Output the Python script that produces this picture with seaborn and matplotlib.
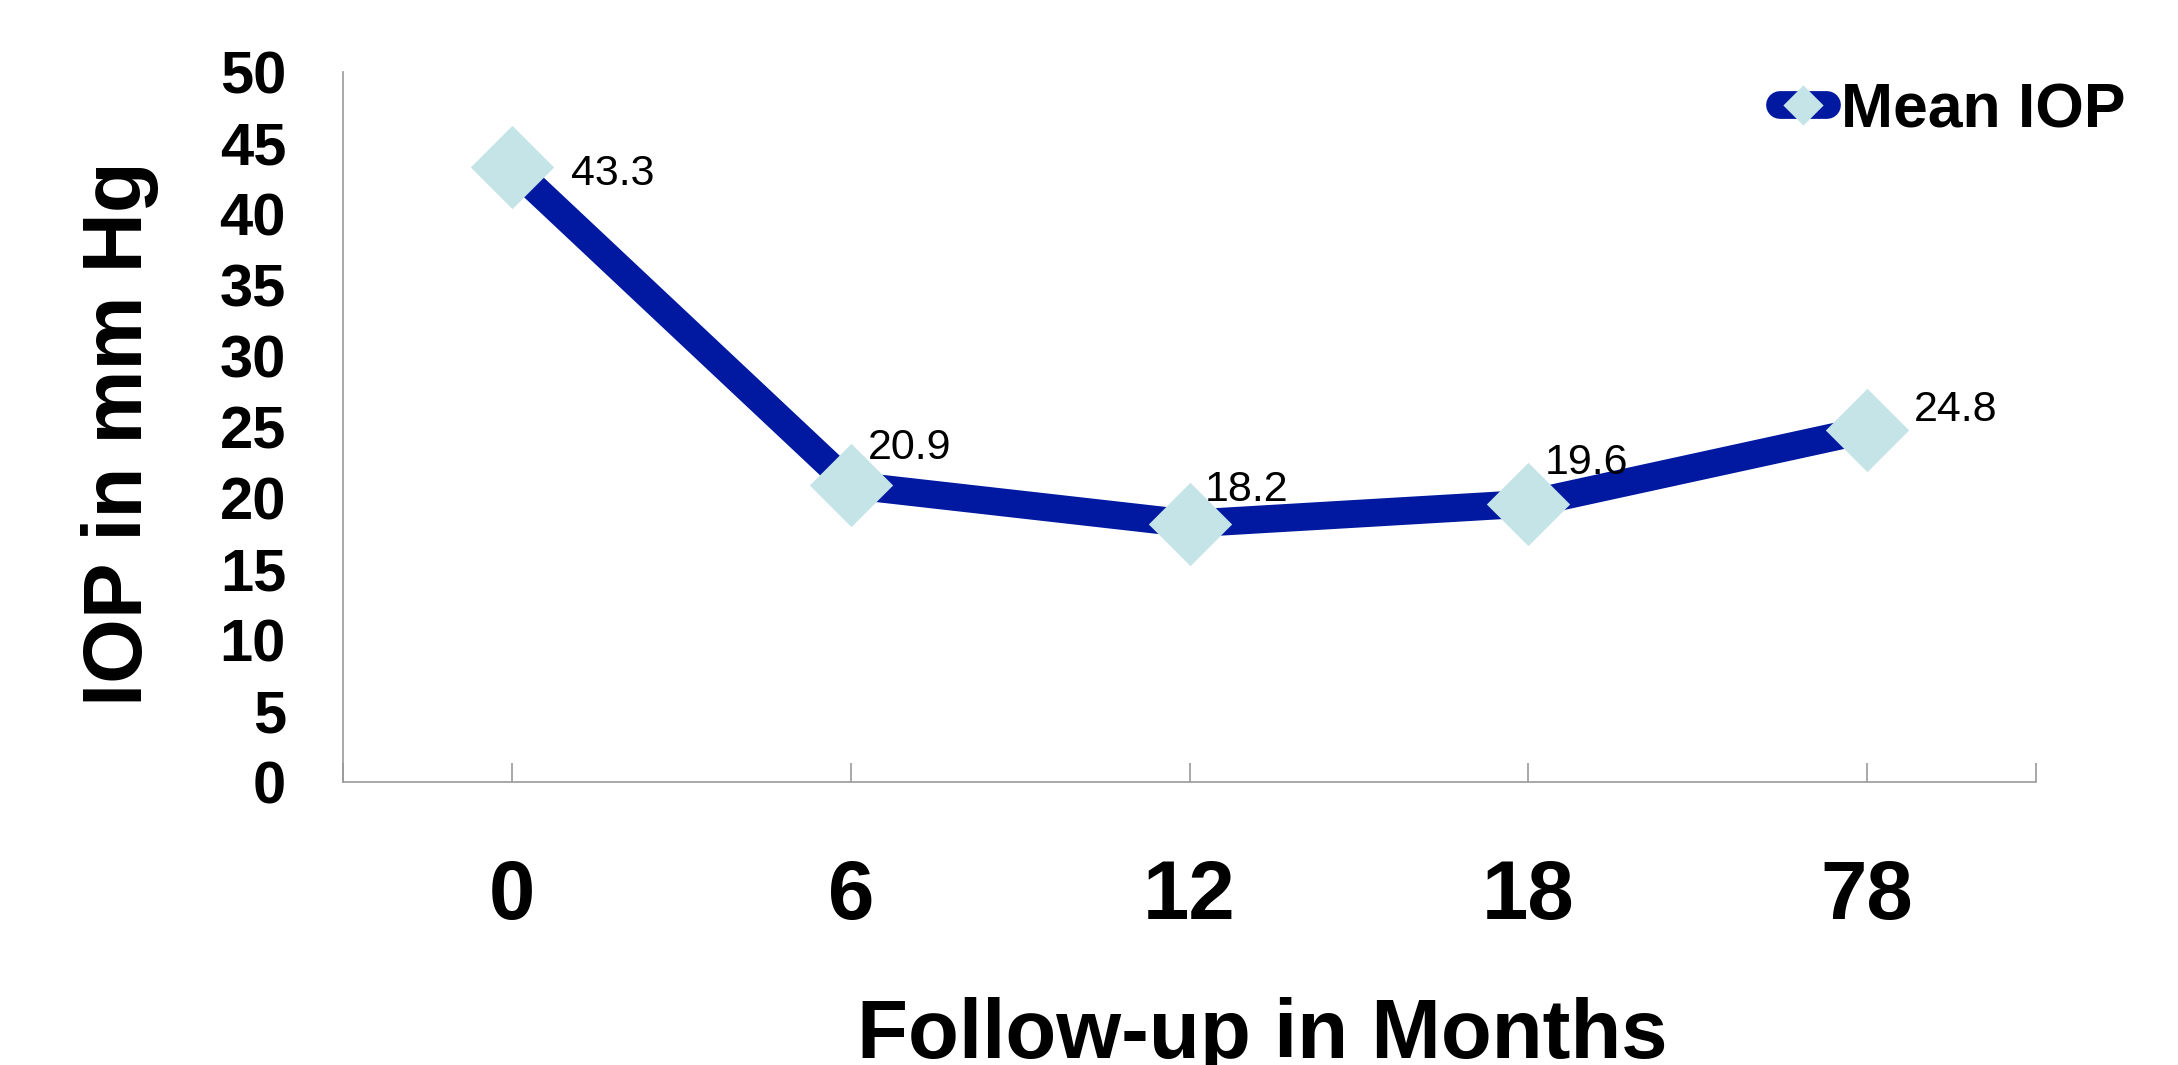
import numpy as np
import pandas as pd
import matplotlib
matplotlib.use("Agg")
import matplotlib.pyplot as plt
from matplotlib.lines import Line2D
import seaborn as sns

# data
months = ["0", "6", "12", "18", "78"]
mean_iop = [43.3, 20.9, 18.2, 19.6, 24.8]
y_ticks = [0, 5, 10, 15, 20, 25, 30, 35, 40, 45, 50]

# label offsets in points (style only)
label_offsets = [(42, -5), (12, 27), (11, 24), (12, 29), (34, 14)]

line_color = "#0019a0"
marker_color = "#c5e4e7"
axis_grey = "#9a9a9a"
diamond = [(0, 1), (1, 0), (0, -1), (-1, 0), (0, 1)]

sns.set_style("white")
plt.rcParams["font.family"] = ["Liberation Sans", "DejaVu Sans"]
plt.rcParams["text.color"] = "black"
plt.rcParams["axes.labelcolor"] = "black"
plt.rcParams["xtick.color"] = "black"
plt.rcParams["ytick.color"] = "black"

df = pd.DataFrame({"pos": np.arange(len(months)), "iop": mean_iop})

fig, ax = plt.subplots(figsize=(21.78, 10.65), dpi=100)
fig.subplots_adjust(left=0.1575, right=0.9348, bottom=0.2657, top=0.9324)

sns.lineplot(data=df, x="pos", y="iop", ax=ax, color=line_color, linewidth=20,
             marker=diamond, markersize=60, markerfacecolor=marker_color,
             markeredgecolor=marker_color, markeredgewidth=0,
             solid_joinstyle="round", solid_capstyle="butt", sort=False)

for i, v in enumerate(mean_iop):
    ax.annotate(f"{v}", (i, v), xytext=label_offsets[i], textcoords="offset points",
                ha="left", va="center", fontsize=31, color="black")

ax.set_xlim(-0.5, len(months) - 0.5)
ax.set_ylim(0, 50)
ax.set_xticks(df["pos"])
ax.set_xticklabels(months, fontsize=60, fontweight="bold")
ax.set_xticks([-0.5, len(months) - 0.5], minor=True)
ax.set_yticks(y_ticks)
ax.set_yticklabels([str(t) for t in y_ticks], fontsize=43, fontweight="bold")

ax.tick_params(axis="x", which="both", bottom=True, direction="in", length=13.7,
               width=1.2, color=axis_grey, labelcolor="black", pad=55)
ax.tick_params(axis="y", left=True, length=0, pad=41, labelcolor="black")

for side in ["top", "right"]:
    ax.spines[side].set_visible(False)
for side in ["left", "bottom"]:
    ax.spines[side].set_color(axis_grey)
    ax.spines[side].set_linewidth(1.2)

ax.set_xlabel("Follow-up in Months", fontsize=60, fontweight="bold", color="black")
ax.set_ylabel("IOP in mm Hg", fontsize=60, fontweight="bold", color="black")
ax.xaxis.set_label_coords(0.543, -0.3028)
ax.yaxis.set_label_coords(-0.1087, 0.49)

handle = Line2D([], [], color=line_color, linewidth=20, solid_capstyle="round",
                marker=diamond, markersize=29, markerfacecolor=marker_color,
                markeredgecolor=marker_color, markeredgewidth=0)
fig.legend([handle], ["Mean IOP"], loc="center left",
           bbox_to_anchor=(1780 / 2178, 0.896), frameon=False, borderpad=0,
           borderaxespad=0, handlelength=0.75, handletextpad=0.22,
           prop={"size": 45, "weight": "bold"}, labelcolor="black")

fig.savefig("out.png", dpi=100)
